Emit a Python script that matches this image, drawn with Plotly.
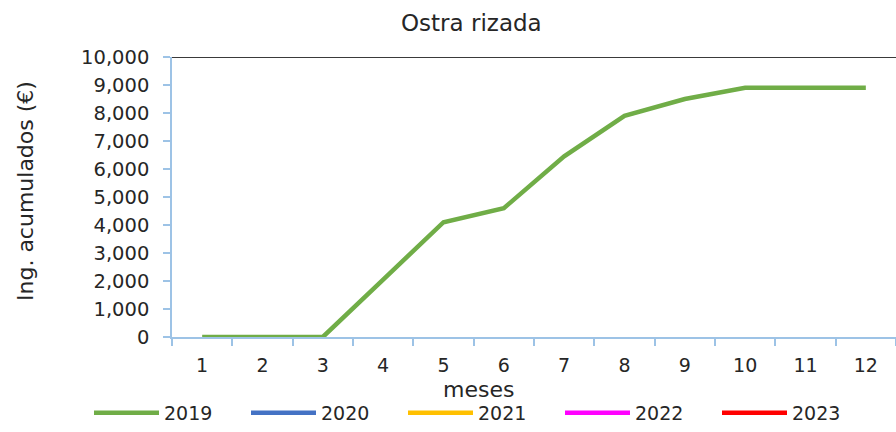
import plotly.graph_objects as go

months = ["1", "2", "3", "4", "5", "6", "7", "8", "9", "10", "11", "12"]
series_names = ["2019", "2020", "2021", "2022", "2023"]
values_2019 = [0, 0, 0, 2050, 4100, 4600, 6450, 7900, 8500, 8900, 8900, 8900]
values_2020 = [None]
values_2021 = [None]
values_2022 = [None]
values_2023 = [None]
series_colors = ["#70AD47", "#4472C4", "#FFC000", "#FF00FF", "#FF0000"]
y_ticks = list(range(0, 10001, 1000))
title_text = "Ostra rizada"
x_title = "meses"
y_title = "Ing. acumulados (€)"

FONT = "DejaVu Sans"
AXIS_BLUE = "#9DC3E6"
TXT = "#262626"
W, H = 896, 432
ML, MR, MT, MB = 172, 0, 57, 95
PW, PH = W - ML - MR, H - MT - MB
LEG_X0, LEG_PITCH, LEG_Y = 89, 157, 413


def px_x(p):
    return (p - ML) / PW


def px_y(p):
    return (H - MB - p) / PH


fig = go.Figure()
all_values = [values_2019, values_2020, values_2021, values_2022, values_2023]
for i, (name, vals, col) in enumerate(zip(series_names, all_values, series_colors)):
    fig.add_trace(go.Scatter(
        x=months[:len(vals)], y=vals, name=name, mode="lines",
        line=dict(color=col, width=4.5), showlegend=True,
        legend="legend" if i < 4 else "legend2",
    ))

leg_common = dict(
    orientation="h", xref="container", yref="container",
    xanchor="left", yanchor="middle",
    font=dict(family=FONT, size=19, color=TXT),
    itemwidth=65, entrywidth=77, entrywidthmode="pixels",
    bgcolor="rgba(0,0,0,0)",
)

fig.update_layout(
    width=W, height=H,
    margin=dict(l=ML, r=MR, t=MT, b=MB),
    paper_bgcolor="white", plot_bgcolor="white",
    font=dict(family=FONT, size=19, color=TXT),
    showlegend=True,
    legend=dict(x=LEG_X0 / W, y=(H - LEG_Y) / H, **leg_common),
    legend2=dict(x=(LEG_X0 + 4 * LEG_PITCH) / W, y=(H - LEG_Y) / H, **leg_common),
    annotations=[
        dict(text=title_text, x=px_x(471), y=px_y(23), xref="paper", yref="paper",
             showarrow=False, font=dict(family=FONT, size=23, color=TXT),
             xanchor="center", yanchor="middle"),
        dict(text=x_title, x=px_x(478), y=px_y(389), xref="paper", yref="paper",
             showarrow=False, font=dict(family=FONT, size=22, color=TXT),
             xanchor="center", yanchor="middle"),
        dict(text=y_title, x=px_x(25), y=px_y(191), xref="paper", yref="paper",
             showarrow=False, textangle=-90,
             font=dict(family=FONT, size=22, color=TXT),
             xanchor="center", yanchor="middle"),
    ],
)

fig.update_xaxes(
    type="category", range=[-0.5, len(months) - 0.5], automargin=False,
    showline=True, linecolor=AXIS_BLUE, linewidth=1.5,
    ticks="outside", tickson="boundaries", ticklen=7, tickcolor=AXIS_BLUE, tickwidth=1.5,
    showgrid=False, zeroline=False,
    tickfont=dict(family=FONT, size=19, color=TXT), ticklabelstandoff=10,
)
fig.update_yaxes(
    range=[0, max(y_ticks)], tickvals=y_ticks, tickformat=",d", automargin=False,
    showline=True, linecolor=AXIS_BLUE, linewidth=1.5,
    ticks="outside", ticklen=7, tickcolor=AXIS_BLUE, tickwidth=1.5,
    showgrid=False, zeroline=False,
    tickfont=dict(family=FONT, size=19.5, color=TXT), ticklabelstandoff=10,
)
fig.add_shape(type="line", xref="paper", yref="y", x0=0, x1=1,
              y0=max(y_ticks), y1=max(y_ticks), line=dict(color="#3A3A3A", width=2))

fig.write_html("out.html", config={"displayModeBar": False},
               post_script="document.body.style.margin='0';")
